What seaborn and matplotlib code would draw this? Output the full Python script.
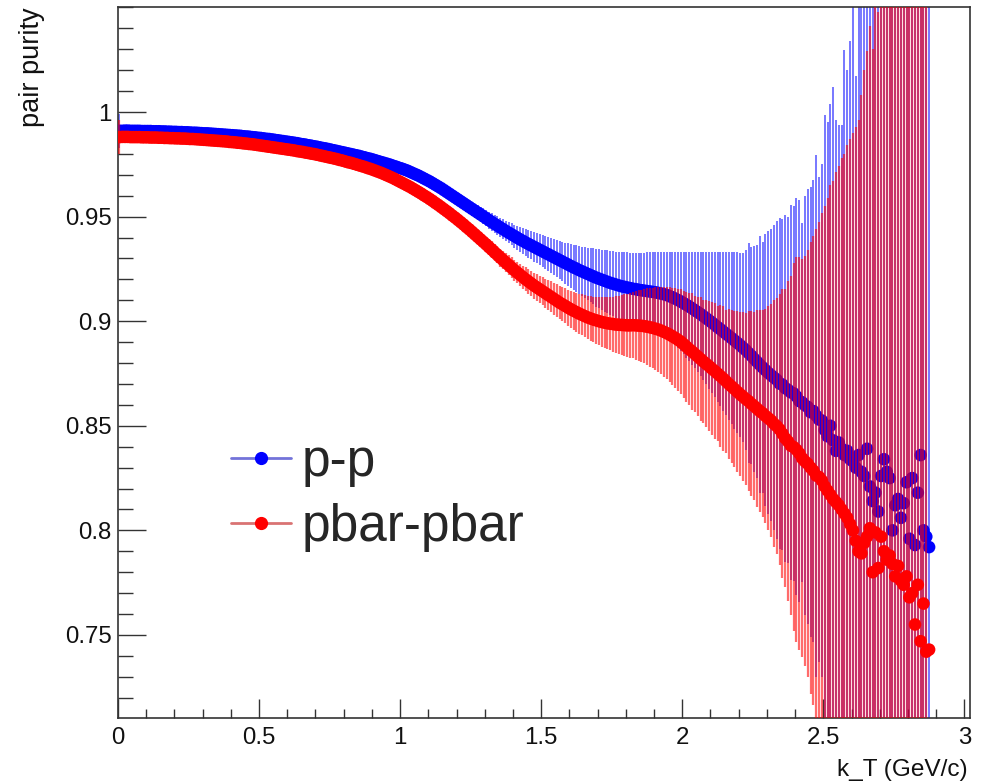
import numpy as np
import pandas as pd
import matplotlib
matplotlib.use("Agg")
import matplotlib.pyplot as plt
from matplotlib.lines import Line2D
from matplotlib.ticker import FixedLocator, MultipleLocator
import seaborn as sns

# ---------------------------------------------------------------------------
# Pair purity versus pair transverse momentum k_T, 0.01 GeV/c bins from 0.
# ---------------------------------------------------------------------------
KT_BIN_WIDTH = 0.01

pp_purity = [
    0.9910, 0.9910, 0.9911, 0.9911, 0.9910, 0.9910, 0.9910, 0.9910, 0.9909, 0.9909,
    0.9909, 0.9909, 0.9908, 0.9908, 0.9908, 0.9907, 0.9907, 0.9906, 0.9906, 0.9905,
    0.9905, 0.9904, 0.9904, 0.9903, 0.9903, 0.9902, 0.9901, 0.9901, 0.9900, 0.9899,
    0.9898, 0.9898, 0.9897, 0.9896, 0.9895, 0.9894, 0.9893, 0.9892, 0.9891, 0.9890,
    0.9889, 0.9888, 0.9887, 0.9886, 0.9884, 0.9883, 0.9882, 0.9880, 0.9879, 0.9877,
    0.9876, 0.9874, 0.9872, 0.9871, 0.9869, 0.9867, 0.9865, 0.9863, 0.9861, 0.9859,
    0.9857, 0.9855, 0.9853, 0.9851, 0.9848, 0.9846, 0.9844, 0.9841, 0.9839, 0.9836,
    0.9834, 0.9831, 0.9828, 0.9826, 0.9823, 0.9820, 0.9817, 0.9814, 0.9811, 0.9808,
    0.9805, 0.9802, 0.9799, 0.9796, 0.9793, 0.9790, 0.9786, 0.9783, 0.9779, 0.9776,
    0.9772, 0.9768, 0.9764, 0.9760, 0.9756, 0.9752, 0.9748, 0.9743, 0.9739, 0.9734,
    0.9730, 0.9725, 0.9720, 0.9714, 0.9708, 0.9702, 0.9696, 0.9689, 0.9682, 0.9675,
    0.9668, 0.9660, 0.9652, 0.9644, 0.9636, 0.9627, 0.9618, 0.9609, 0.9600, 0.9591,
    0.9582, 0.9573, 0.9564, 0.9555, 0.9546, 0.9537, 0.9528, 0.9519, 0.9510, 0.9501,
    0.9492, 0.9483, 0.9474, 0.9465, 0.9457, 0.9448, 0.9440, 0.9431, 0.9423, 0.9415,
    0.9407, 0.9399, 0.9391, 0.9384, 0.9376, 0.9369, 0.9362, 0.9355, 0.9348, 0.9341,
    0.9334, 0.9327, 0.9320, 0.9313, 0.9306, 0.9299, 0.9292, 0.9285, 0.9278, 0.9271,
    0.9264, 0.9257, 0.9251, 0.9244, 0.9238, 0.9232, 0.9226, 0.9220, 0.9214, 0.9208,
    0.9203, 0.9198, 0.9193, 0.9188, 0.9183, 0.9179, 0.9175, 0.9171, 0.9167, 0.9164,
    0.9161, 0.9158, 0.9155, 0.9153, 0.9150, 0.9148, 0.9146, 0.9144, 0.9142, 0.9140,
    0.9138, 0.9135, 0.9132, 0.9129, 0.9125, 0.9120, 0.9114, 0.9108, 0.9101, 0.9094,
    0.9086, 0.9078, 0.9070, 0.9061, 0.9052, 0.9043, 0.9034, 0.9024, 0.9014, 0.9004,
    0.8994, 0.8983, 0.8972, 0.8962, 0.8951, 0.8940, 0.8930, 0.8919, 0.8908, 0.8897,
    0.8886, 0.8874, 0.8862, 0.8848, 0.8835, 0.8820, 0.8806, 0.8792, 0.8779, 0.8766,
    0.8753, 0.8742, 0.8731, 0.8720, 0.8702, 0.8697, 0.8680, 0.8672, 0.8660, 0.8655,
    0.8640, 0.8618, 0.8612, 0.8598, 0.8590, 0.8565, 0.8570, 0.8548, 0.8530, 0.8525,
    0.848, 0.845, 0.850, 0.843, 0.838, 0.842, 0.839, 0.836, 0.838, 0.834,
    0.833, 0.830, 0.836, 0.828, 0.826, 0.839, 0.821, 0.814, 0.818, 0.809,
    0.826, 0.834, 0.828, 0.825, 0.800, 0.812, 0.815, 0.806, 0.813, 0.823,
    0.796, 0.825, 0.793, 0.818, 0.836, 0.800, 0.797, 0.792,
]

pp_error = [
    0.0080, 0.0016, 0.0010, 0.0008, 0.0007, 0.0006, 0.0005, 0.0005, 0.0005, 0.0004,
    0.0004, 0.0004, 0.0004, 0.0004, 0.0004, 0.0004, 0.0004, 0.0004, 0.0004, 0.0004,
    0.0004, 0.0004, 0.0004, 0.0004, 0.0004, 0.0004, 0.0004, 0.0004, 0.0004, 0.0004,
    0.0004, 0.0004, 0.0004, 0.0004, 0.0004, 0.0004, 0.0004, 0.0004, 0.0004, 0.0004,
    0.0005, 0.0005, 0.0005, 0.0005, 0.0005, 0.0005, 0.0005, 0.0005, 0.0005, 0.0005,
    0.0005, 0.0005, 0.0005, 0.0005, 0.0005, 0.0005, 0.0005, 0.0005, 0.0005, 0.0005,
    0.0006, 0.0006, 0.0006, 0.0006, 0.0006, 0.0006, 0.0006, 0.0006, 0.0006, 0.0006,
    0.0007, 0.0007, 0.0007, 0.0007, 0.0007, 0.0007, 0.0007, 0.0007, 0.0007, 0.0007,
    0.0008, 0.0008, 0.0008, 0.0008, 0.0008, 0.0008, 0.0008, 0.0008, 0.0008, 0.0008,
    0.0009, 0.0009, 0.0009, 0.0010, 0.0010, 0.0010, 0.0010, 0.0011, 0.0011, 0.0011,
    0.0012, 0.0013, 0.0013, 0.0014, 0.0014, 0.0015, 0.0016, 0.0016, 0.0017, 0.0018,
    0.0019, 0.0020, 0.0020, 0.0021, 0.0022, 0.0023, 0.0024, 0.0025, 0.0026, 0.0027,
    0.0028, 0.0029, 0.0030, 0.0031, 0.0032, 0.0033, 0.0034, 0.0035, 0.0036, 0.0038,
    0.0039, 0.0040, 0.0042, 0.0043, 0.0045, 0.0046, 0.0048, 0.0049, 0.0051, 0.0053,
    0.0055, 0.0057, 0.0059, 0.0061, 0.0063, 0.0065, 0.0067, 0.0070, 0.0072, 0.0074,
    0.0077, 0.0079, 0.0082, 0.0084, 0.0087, 0.0090, 0.0092, 0.0095, 0.0098, 0.0101,
    0.0105, 0.0108, 0.0112, 0.0115, 0.0119, 0.0123, 0.0126, 0.0130, 0.0134, 0.0138,
    0.0141, 0.0144, 0.0147, 0.0150, 0.0153, 0.0156, 0.0158, 0.0161, 0.0163, 0.0166,
    0.0168, 0.0170, 0.0172, 0.0175, 0.0177, 0.0180, 0.0182, 0.0185, 0.0188, 0.0190,
    0.0193, 0.0196, 0.0199, 0.0202, 0.0205, 0.0210, 0.0215, 0.0221, 0.0228, 0.0236,
    0.0244, 0.0252, 0.0260, 0.0269, 0.0278, 0.0287, 0.0296, 0.0306, 0.0316, 0.0326,
    0.0336, 0.0347, 0.0358, 0.0368, 0.0379, 0.0390, 0.0400, 0.0411, 0.0422, 0.0433,
    0.0440, 0.0452, 0.0478, 0.0528, 0.0520, 0.0540, 0.0556, 0.0614, 0.0600, 0.0650,
    0.0677, 0.0698, 0.0729, 0.0760, 0.0793, 0.0793, 0.0830, 0.0828, 0.0897, 0.0895,
    0.0950, 0.0962, 0.0858, 0.1002, 0.1040, 0.1075, 0.1106, 0.1247, 0.1160, 0.1225,
    0.1506, 0.1500, 0.1540, 0.1690, 0.1580, 0.1520, 0.1550, 0.1935, 0.1820, 0.2000,
    0.240, 0.187, 0.250, 0.270, 0.290, 0.300, 0.320, 0.330, 0.340, 0.350,
    0.360, 0.370, 0.380, 0.400, 0.400, 0.420, 0.430, 0.450, 0.460, 0.480,
    0.500, 0.520, 0.550, 0.580, 0.600, 0.620, 0.650, 0.700,
]

pbar_purity = [
    0.9880, 0.9881, 0.9881, 0.9881, 0.9880, 0.9880, 0.9880, 0.9880, 0.9879, 0.9879,
    0.9879, 0.9878, 0.9878, 0.9878, 0.9877, 0.9877, 0.9876, 0.9876, 0.9875, 0.9875,
    0.9874, 0.9874, 0.9873, 0.9873, 0.9872, 0.9871, 0.9871, 0.9870, 0.9869, 0.9868,
    0.9867, 0.9866, 0.9865, 0.9864, 0.9863, 0.9862, 0.9861, 0.9860, 0.9859, 0.9857,
    0.9856, 0.9855, 0.9853, 0.9852, 0.9850, 0.9849, 0.9847, 0.9846, 0.9844, 0.9842,
    0.9840, 0.9838, 0.9836, 0.9834, 0.9832, 0.9830, 0.9828, 0.9826, 0.9824, 0.9822,
    0.9820, 0.9818, 0.9816, 0.9813, 0.9811, 0.9809, 0.9806, 0.9804, 0.9801, 0.9799,
    0.9796, 0.9793, 0.9790, 0.9787, 0.9784, 0.9781, 0.9778, 0.9775, 0.9771, 0.9768,
    0.9764, 0.9760, 0.9757, 0.9753, 0.9749, 0.9745, 0.9741, 0.9737, 0.9732, 0.9728,
    0.9723, 0.9718, 0.9713, 0.9708, 0.9702, 0.9696, 0.9690, 0.9684, 0.9677, 0.9670,
    0.9663, 0.9656, 0.9649, 0.9642, 0.9634, 0.9626, 0.9618, 0.9610, 0.9601, 0.9593,
    0.9584, 0.9575, 0.9565, 0.9556, 0.9546, 0.9536, 0.9526, 0.9516, 0.9505, 0.9495,
    0.9484, 0.9473, 0.9462, 0.9450, 0.9439, 0.9427, 0.9415, 0.9403, 0.9391, 0.9379,
    0.9367, 0.9354, 0.9342, 0.9329, 0.9317, 0.9304, 0.9292, 0.9280, 0.9268, 0.9256,
    0.9244, 0.9233, 0.9222, 0.9211, 0.9200, 0.9190, 0.9180, 0.9170, 0.9161, 0.9152,
    0.9143, 0.9134, 0.9125, 0.9116, 0.9107, 0.9098, 0.9089, 0.9081, 0.9073, 0.9065,
    0.9057, 0.9050, 0.9043, 0.9036, 0.9030, 0.9024, 0.9018, 0.9013, 0.9008, 0.9004,
    0.9000, 0.8996, 0.8993, 0.8990, 0.8988, 0.8986, 0.8984, 0.8983, 0.8982, 0.8981,
    0.8980, 0.8980, 0.8981, 0.8980, 0.8979, 0.8978, 0.8976, 0.8974, 0.8971, 0.8968,
    0.8964, 0.8960, 0.8955, 0.8949, 0.8943, 0.8936, 0.8928, 0.8920, 0.8911, 0.8902,
    0.8890, 0.8878, 0.8866, 0.8855, 0.8843, 0.8831, 0.8819, 0.8807, 0.8796, 0.8785,
    0.8773, 0.8762, 0.8750, 0.8738, 0.8726, 0.8713, 0.8700, 0.8688, 0.8676, 0.8663,
    0.8651, 0.8640, 0.8628, 0.8618, 0.8605, 0.8594, 0.8582, 0.8570, 0.8560, 0.8547,
    0.8536, 0.8525, 0.8510, 0.8498, 0.8483, 0.8462, 0.8440, 0.8425, 0.8405, 0.8398,
    0.8385, 0.8368, 0.8345, 0.8330, 0.8318, 0.8300, 0.8285, 0.8262, 0.8255, 0.8238,
    0.8210, 0.8190, 0.8170, 0.8150, 0.8135, 0.8120, 0.8100, 0.8080, 0.8060, 0.8030,
    0.800, 0.795, 0.790, 0.789, 0.794, 0.797, 0.801, 0.780, 0.799, 0.782,
    0.797, 0.790, 0.786, 0.788, 0.784, 0.778, 0.783, 0.776, 0.774, 0.778,
    0.768, 0.770, 0.755, 0.774, 0.747, 0.765, 0.742, 0.743,
]

pbar_error = [
    0.0080, 0.0016, 0.0010, 0.0008, 0.0007, 0.0006, 0.0005, 0.0005, 0.0005, 0.0005,
    0.0005, 0.0005, 0.0005, 0.0005, 0.0005, 0.0005, 0.0005, 0.0005, 0.0005, 0.0005,
    0.0005, 0.0005, 0.0005, 0.0005, 0.0005, 0.0005, 0.0005, 0.0005, 0.0005, 0.0005,
    0.0005, 0.0005, 0.0005, 0.0005, 0.0005, 0.0005, 0.0005, 0.0005, 0.0005, 0.0005,
    0.0005, 0.0005, 0.0005, 0.0005, 0.0005, 0.0005, 0.0005, 0.0005, 0.0005, 0.0005,
    0.0006, 0.0006, 0.0006, 0.0006, 0.0006, 0.0006, 0.0006, 0.0006, 0.0006, 0.0006,
    0.0006, 0.0006, 0.0006, 0.0006, 0.0006, 0.0007, 0.0007, 0.0007, 0.0007, 0.0007,
    0.0007, 0.0007, 0.0007, 0.0007, 0.0007, 0.0008, 0.0008, 0.0008, 0.0008, 0.0008,
    0.0008, 0.0008, 0.0009, 0.0009, 0.0009, 0.0009, 0.0009, 0.0010, 0.0010, 0.0010,
    0.0010, 0.0010, 0.0011, 0.0011, 0.0011, 0.0011, 0.0011, 0.0012, 0.0012, 0.0012,
    0.0012, 0.0012, 0.0013, 0.0013, 0.0014, 0.0014, 0.0015, 0.0015, 0.0016, 0.0017,
    0.0017, 0.0018, 0.0019, 0.0020, 0.0020, 0.0021, 0.0022, 0.0023, 0.0024, 0.0025,
    0.0026, 0.0027, 0.0028, 0.0029, 0.0030, 0.0031, 0.0032, 0.0033, 0.0034, 0.0035,
    0.0036, 0.0037, 0.0039, 0.0040, 0.0041, 0.0043, 0.0044, 0.0046, 0.0047, 0.0049,
    0.0050, 0.0052, 0.0053, 0.0055, 0.0057, 0.0058, 0.0060, 0.0062, 0.0064, 0.0066,
    0.0068, 0.0070, 0.0072, 0.0074, 0.0076, 0.0078, 0.0080, 0.0082, 0.0084, 0.0086,
    0.0088, 0.0090, 0.0093, 0.0095, 0.0098, 0.0100, 0.0103, 0.0106, 0.0109, 0.0112,
    0.0115, 0.0118, 0.0121, 0.0124, 0.0128, 0.0131, 0.0135, 0.0139, 0.0143, 0.0147,
    0.0151, 0.0155, 0.0159, 0.0164, 0.0168, 0.0173, 0.0178, 0.0183, 0.0188, 0.0193,
    0.0198, 0.0203, 0.0209, 0.0214, 0.0220, 0.0226, 0.0232, 0.0238, 0.0244, 0.0250,
    0.0256, 0.0262, 0.0268, 0.0281, 0.0279, 0.0286, 0.0298, 0.0294, 0.0304, 0.0312,
    0.0318, 0.0326, 0.0322, 0.0338, 0.0346, 0.0342, 0.0358, 0.0366, 0.0371, 0.0384,
    0.0392, 0.0405, 0.0412, 0.0430, 0.0442, 0.0451, 0.0470, 0.0482, 0.0495, 0.0512,
    0.0535, 0.0556, 0.0590, 0.0612, 0.0648, 0.0690, 0.0712, 0.0765, 0.0810, 0.0880,
    0.0920, 0.0940, 0.0950, 0.0980, 0.1020, 0.1080, 0.1120, 0.1180, 0.1220, 0.1280,
    0.1340, 0.1400, 0.1480, 0.1520, 0.1580, 0.1620, 0.1680, 0.1720, 0.1780, 0.1840,
    0.1900, 0.1980, 0.2060, 0.2190, 0.2260, 0.2320, 0.2400, 0.2500, 0.2580, 0.2660,
    0.270, 0.278, 0.285, 0.292, 0.300, 0.305, 0.312, 0.320, 0.326, 0.332,
    0.338, 0.345, 0.350, 0.356, 0.362, 0.370, 0.380, 0.000,
]

series_labels = ["p-p", "pbar-pbar"]
x_ticks = [0, 0.5, 1, 1.5, 2, 2.5, 3]
x_tick_labels = ["0", "0.5", "1", "1.5", "2", "2.5", "3"]
y_ticks = [0.75, 0.80, 0.85, 0.90, 0.95, 1.00]
y_tick_labels = ["0.75", "0.8", "0.85", "0.9", "0.95", "1"]
x_title = "k_T (GeV/c)"
y_title = "pair purity"

# ---------------------------------------------------------------------------
def to_frame(purity, error):
    y = np.asarray(purity, dtype=float)
    e = np.asarray(error, dtype=float)
    kt = (np.arange(len(y)) + 0.5) * KT_BIN_WIDTH
    return pd.DataFrame({"kt": kt, "purity": y, "lo": y - e, "hi": y + e, "err": e})


pp = to_frame(pp_purity, pp_error)
pbar = to_frame(pbar_purity, pbar_error)

sns.set_theme(style="ticks")
plt.rcParams["font.family"] = ["Liberation Sans", "DejaVu Sans"]

W, H = 987, 782
fig = plt.figure(figsize=(W / 100, H / 100), dpi=100)
fig.patch.set_facecolor("white")
ax = fig.add_axes([118 / W, (H - 718) / H, (970 - 118) / W, (718 - 7) / H])
ax.set_facecolor("white")

BLUE = (0.0, 0.0, 1.0)
RED = (1.0, 0.0, 0.0)
MARKER_AREA = 82

# p-p: error bars then markers
bars = pp[pp["err"] > 0]
ax.vlines(bars["kt"], bars["lo"], bars["hi"], colors=[BLUE], alpha=0.6,
          linewidth=1.25, zorder=2)
sns.scatterplot(data=pp, x="kt", y="purity", color=BLUE, s=MARKER_AREA,
                linewidth=0, edgecolor="none", ax=ax, zorder=3, legend=False)

# pbar-pbar drawn on top
bars = pbar[pbar["err"] > 0]
ax.vlines(bars["kt"], bars["lo"], bars["hi"], colors=[RED], alpha=0.58,
          linewidth=1.6, zorder=4)
sns.scatterplot(data=pbar, x="kt", y="purity", color=RED, s=MARKER_AREA,
                linewidth=0, edgecolor="none", ax=ax, zorder=5, legend=False)

ax.set_xlabel("")
ax.set_ylabel("")
ax.set_xlim(0, 3.02)
ax.set_ylim(0.7103, 1.0502)

ax.xaxis.set_major_locator(FixedLocator(x_ticks))
ax.set_xticklabels(x_tick_labels)
ax.xaxis.set_minor_locator(MultipleLocator(0.1))
ax.yaxis.set_major_locator(FixedLocator(y_ticks))
ax.set_yticklabels(y_tick_labels)
ax.yaxis.set_minor_locator(MultipleLocator(0.01))

AXIS_COLOR = "#333333"
ax.tick_params(axis="both", which="both", direction="in", color=AXIS_COLOR,
               width=1.0, labelsize=17.3, labelcolor="#111111",
               top=False, right=False)
ax.tick_params(axis="y", which="major", length=20, pad=4.5)
ax.tick_params(axis="y", which="minor", length=10.5)
ax.tick_params(axis="x", which="major", length=13.5, pad=6.5)
ax.tick_params(axis="x", which="minor", length=6.5)
for sp in ax.spines.values():
    sp.set_visible(True)
    sp.set_color(AXIS_COLOR)
    sp.set_linewidth(1.2)

fig.text(32 / W, 1 - 7 / H, y_title, rotation=90, ha="center", va="top",
         fontsize=19.5, color="#111111")
fig.text(968 / W, 1 - 776 / H, x_title, ha="right", va="baseline",
         fontsize=17.6, color="#111111")

handles = [
    Line2D([], [], color=(0.45, 0.45, 0.85), lw=2.0, marker="o", ms=8.5,
           markerfacecolor=BLUE, markeredgecolor=BLUE),
    Line2D([], [], color=(0.85, 0.45, 0.45), lw=2.0, marker="o", ms=8.5,
           markerfacecolor=RED, markeredgecolor=RED),
]
ax.legend(handles, series_labels, loc="center left",
          bbox_to_anchor=(231 / W, 1 - 495 / H), bbox_transform=fig.transFigure,
          frameon=False, fontsize=37, handlelength=1.17, handletextpad=0.2,
          labelspacing=0.3, borderpad=0, borderaxespad=0)

fig.savefig("out.png", dpi=100, facecolor="white")
